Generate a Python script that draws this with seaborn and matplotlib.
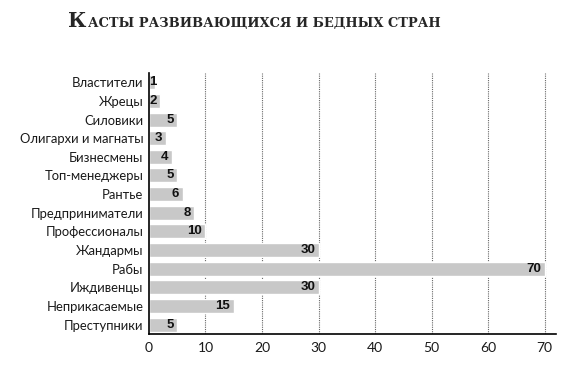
import matplotlib
matplotlib.use("Agg")
import matplotlib.pyplot as plt
import seaborn as sns
import pandas as pd

categories = ["Властители", "Жрецы", "Силовики", "Олигархи и магнаты", "Бизнесмены",
              "Топ-менеджеры", "Рантье", "Предприниматели", "Профессионалы", "Жандармы",
              "Рабы", "Иждивенцы", "Неприкасаемые", "Преступники"]
values = [1, 2, 5, 3, 4, 5, 6, 8, 10, 30, 70, 30, 15, 5]
x_ticks = [0, 10, 20, 30, 40, 50, 60, 70]
title_first = "К"
title_rest = "АСТЫ РАЗВИВАЮЩИХСЯ И БЕДНЫХ СТРАН"

sns.set_theme(style="white")
plt.rcParams['font.family'] = ['Lato', 'DejaVu Sans']

df = pd.DataFrame({"cat": categories, "val": values})

fig = plt.figure(figsize=(5.84, 3.76), dpi=100)
ax = fig.add_axes([0.255, 0.112, 0.697, 0.694])
sns.barplot(data=df, x="val", y="cat", color="#c8c8c8", saturation=1, width=0.75,
            ax=ax, zorder=2)
ax.set_xlim(0, 72)
ax.set_ylim(13.5, -0.5)
ax.set_xticks(x_ticks)
ax.set_xlabel("")
ax.set_ylabel("")
for s in ["top", "right"]:
    ax.spines[s].set_visible(False)
for s in ["left", "bottom"]:
    ax.spines[s].set_color("black")
    ax.spines[s].set_linewidth(1.2)
ax.tick_params(axis="y", length=0, labelsize=9.4, colors="#1a1a1a", pad=4)
ax.tick_params(axis="x", length=0, labelsize=10, colors="#1a1a1a", pad=6)
for x in x_ticks[1:]:
    ax.axvline(x, color="#666666", linestyle=(0, (1, 1)), linewidth=0.8, zorder=1)

for i, v in enumerate(values):
    xpos = max(v, 2)
    ax.annotate(str(v), xy=(xpos, i), xytext=(-2.5, 0), textcoords="offset points",
                ha="right", va="center", fontsize=9.5, fontweight="bold",
                family=["Liberation Sans Narrow", "Liberation Sans", "DejaVu Sans"],
                color="#111111", zorder=3)

ty = 0.928
t1 = fig.text(0.117, ty, title_first, fontsize=14.5, fontweight="bold",
              family=["DejaVu Serif"], ha="left", va="baseline")
fig.canvas.draw()
bb = t1.get_window_extent(renderer=fig.canvas.get_renderer())
x1 = bb.x1 / fig.bbox.width
fig.text(x1 + 0.002, ty, title_rest, fontsize=9.4, fontweight="bold",
         family=["DejaVu Serif"], ha="left", va="baseline")

fig.savefig("out.png", dpi=100)
